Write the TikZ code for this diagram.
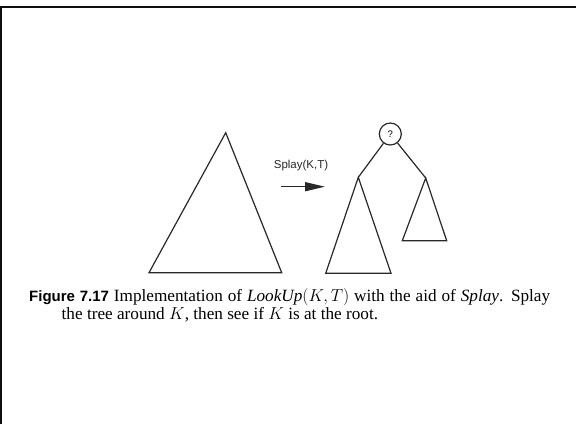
\documentclass[tikz,border=0pt]{standalone}
\usepackage{fontspec}
\setmainfont{Liberation Serif}
\setsansfont{Liberation Sans}
\usepackage{xcolor}
\usepackage{tikz}
\usetikzlibrary{arrows.meta,calc}
\definecolor{inkgray}{RGB}{40,40,40}
\definecolor{framegray}{RGB}{15,15,15}

\begin{document}
\begin{tikzpicture}[x=1pt,y=-1pt,line join=miter,
  treeline/.style={draw=inkgray,line width=1.2pt},
  rootnode/.style={circle,draw=inkgray,line width=1.2pt,minimum size=22pt,inner sep=0pt,font=\sffamily\fontsize{9.5}{10}\selectfont},
  splayarrow/.style={draw=inkgray,line width=1.4pt,-{Triangle[length=20pt,width=9pt]}}]
\useasboundingbox (0,0) rectangle (576,424);
\draw[framegray,line width=2.4pt] (1.2,424) -- (1.2,7.2) -- (576,7.2);
% tree before the splay
\draw[treeline] (225.7,132.7) -- (149,272.7) -- (281.7,272.7) -- cycle;
% the splay step
\coordinate (arrs) at (280.7,186.7);
\coordinate (arre) at (325,186.7);
\draw[splayarrow] (arrs) -- (arre);
\node[anchor=base,inner sep=0pt,font=\sffamily\fontsize{11.5}{13}\selectfont,text=inkgray] (lbl) at (301,168.3) {Splay(K,T)};
% tree after the splay
\node[rootnode] (root) at (390.3,134) {?};
\coordinate (lsub) at (358.3,177.3);
\coordinate (rsub) at (425.7,178);
\draw[treeline] (root) -- (lsub);
\draw[treeline] (root) -- (rsub);
\draw[treeline] (lsub) -- (325.7,273.3) -- (391,273.3) -- cycle;
\draw[treeline] (rsub) -- (402.3,240.7) -- (446.7,240.7) -- cycle;
% caption
\node[anchor=base west,inner sep=0pt] (cap) at (29,319)
  {\parbox[b]{521pt}{\fontsize{17.2}{16}\selectfont\hangindent=32.5pt\hangafter=1\noindent
  {\sffamily\bfseries\fontsize{15}{16}\selectfont Figure 7.17} Implementation of \textit{LookUp}$(K,T)$ with the aid of \textit{Splay}. Splay\linebreak
  the tree around $K$, then see if $K$ is at the root.}};
\end{tikzpicture}
\end{document}
